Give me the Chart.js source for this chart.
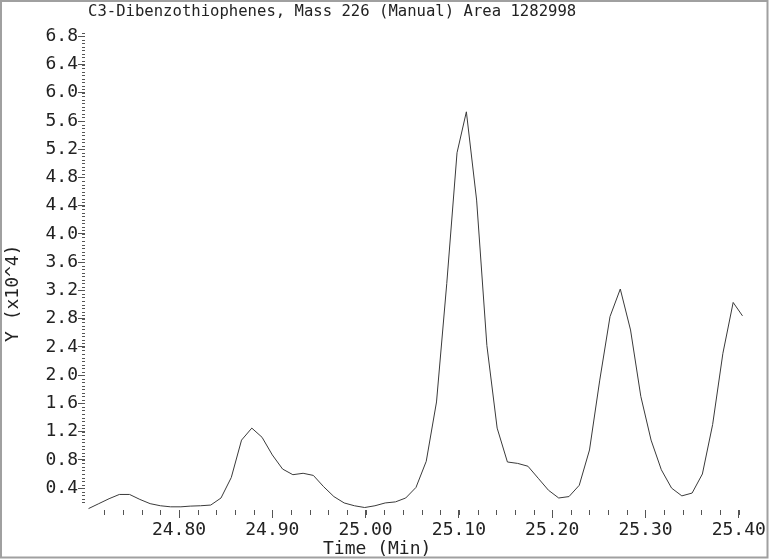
<!DOCTYPE html>
<html>
<head>
<meta charset="utf-8">
<script src="https://cdn.jsdelivr.net/npm/chart.js@4.4.0/dist/chart.umd.min.js"></script>
<style>
    html, body { margin: 0; padding: 0; background: #fff; }
    #wrap { position: relative; width: 780px; height: 559px; }
</style>
</head>
<body>
<div id="wrap"><canvas id="chromChart" width="780" height="559"></canvas></div>
<script>
const chartTitle = "C3-Dibenzothiophenes, Mass 226 (Manual) Area 1282998";
const xTitle = "Time (Min)";
const yTitle = "Y (x10^4)";

// retention time (min) and response (x10^4)
const times = [
    24.703, 24.714, 24.725, 24.736, 24.747, 24.758, 24.769, 24.780, 24.791, 24.802,
    24.812, 24.823, 24.834, 24.845, 24.856, 24.867, 24.878, 24.889, 24.900, 24.911,
    24.922, 24.933, 24.944, 24.955, 24.966, 24.977, 24.988, 24.999, 25.010, 25.021,
    25.032, 25.043, 25.054, 25.065, 25.076, 25.087, 25.098, 25.108, 25.119, 25.130,
    25.141, 25.152, 25.163, 25.174, 25.185, 25.196, 25.207, 25.218, 25.229, 25.240,
    25.251, 25.262, 25.273, 25.284, 25.295, 25.306, 25.317, 25.328, 25.339, 25.350,
    25.361, 25.372, 25.383, 25.394, 25.404
];
const intensity = [
    0.11, 0.18, 0.25, 0.31, 0.31, 0.24, 0.18, 0.15, 0.135, 0.135,
    0.145, 0.15, 0.16, 0.26, 0.55, 1.08, 1.25, 1.12, 0.87, 0.67,
    0.59, 0.61, 0.58, 0.42, 0.28, 0.19, 0.15, 0.125, 0.15, 0.19,
    0.205, 0.26, 0.41, 0.78, 1.62, 3.3, 5.15, 5.73, 4.48, 2.42,
    1.25, 0.77, 0.75, 0.71, 0.54, 0.37, 0.26, 0.28, 0.44, 0.94,
    1.93, 2.83, 3.22, 2.64, 1.70, 1.08, 0.66, 0.40, 0.29, 0.33,
    0.60, 1.30, 2.31, 3.03, 2.84
];

const xTickValues = [24.80, 24.90, 25.00, 25.10, 25.20, 25.30, 25.40];
const yTickValues = [0.4, 0.8, 1.2, 1.6, 2.0, 2.4, 2.8, 3.2, 3.6, 4.0, 4.4, 4.8, 5.2, 5.6, 6.0, 6.4, 6.8];

const monoFont = "'DejaVu Sans Mono', 'Liberation Mono', monospace";

const decorPlugin = {
    id: "decor",
    afterDraw(chart) {
        const ctx = chart.ctx;
        const xs = chart.scales.x;
        const ys = chart.scales.y;
        const area = chart.chartArea;
        ctx.save();

        // minor tick marks
        ctx.strokeStyle = "#555";
        ctx.lineWidth = 1;
        ctx.beginPath();
        for (let v = 24.72; v <= 25.405; v += 0.02) {
            const px = Math.round(xs.getPixelForValue(v)) + 0.5;
            ctx.moveTo(px, area.bottom);
            ctx.lineTo(px, area.bottom + 5);
        }
        for (let v = 0.2; v <= 6.86; v += 0.05) {
            const py = Math.round(ys.getPixelForValue(v)) + 0.5;
            ctx.moveTo(area.left - 3, py);
            ctx.lineTo(area.left, py);
        }
        ctx.stroke();

        // titles
        ctx.fillStyle = "#222";
        ctx.textBaseline = "alphabetic";
        ctx.textAlign = "left";
        ctx.font = "15.6px " + monoFont;
        ctx.fillText(chartTitle, 88, 15.5);

        ctx.font = "18px " + monoFont;
        ctx.fillText(xTitle, 323, 554);

        ctx.translate(18, 342);
        ctx.rotate(-Math.PI / 2);
        ctx.fillText(yTitle, 0, 0);
        ctx.restore();

        // frame
        ctx.save();
        ctx.strokeStyle = "#a0a0a0";
        ctx.lineWidth = 2;
        ctx.beginPath();
        ctx.moveTo(1, 1);
        ctx.lineTo(1, 557.5);
        ctx.lineTo(767.5, 557.5);
        ctx.lineTo(767.5, 1);
        ctx.closePath();
        ctx.stroke();
        ctx.restore();
    }
};

document.addEventListener("DOMContentLoaded", function () {
    const canvas = document.getElementById("chromChart");

    new Chart(canvas, {
        type: "line",
        data: {
            datasets: [{
                data: times.map((t, i) => ({ x: t, y: intensity[i] })),
                borderColor: "#3a3a3a",
                borderWidth: 1,
                pointRadius: 0,
                tension: 0,
                fill: false
            }]
        },
        options: {
            responsive: false,
            animation: false,
            devicePixelRatio: 1,
            layout: { padding: { top: 30, right: 14, bottom: 0, left: 0 } },
            plugins: {
                legend: { display: false },
                tooltip: { enabled: false },
                title: { display: false }
            },
            scales: {
                x: {
                    type: "linear",
                    min: 24.6992,
                    max: 25.4292,
                    afterBuildTicks: (scale) => {
                        scale.ticks = xTickValues.map(v => ({ value: v }));
                    },
                    afterFit: (scale) => { scale.height = 49; },
                    ticks: {
                        autoSkip: false,
                        maxRotation: 0,
                        padding: 2,
                        color: "#222",
                        font: { family: monoFont, size: 18 },
                        callback: (v) => Number(v).toFixed(2)
                    },
                    grid: {
                        drawOnChartArea: false,
                        drawTicks: true,
                        tickLength: 8,
                        color: "#555"
                    },
                    border: { display: false }
                },
                y: {
                    type: "linear",
                    min: 0.09,
                    max: 6.889,
                    afterBuildTicks: (scale) => {
                        scale.ticks = yTickValues.map(v => ({ value: v }));
                    },
                    afterFit: (scale) => { scale.width = 85; },
                    ticks: {
                        autoSkip: false,
                        padding: 0,
                        color: "#222",
                        font: { family: monoFont, size: 18 },
                        callback: (v) => Number(v).toFixed(1)
                    },
                    grid: {
                        drawOnChartArea: false,
                        drawTicks: true,
                        tickLength: 7,
                        color: "#555"
                    },
                    border: { display: false }
                }
            }
        },
        plugins: [decorPlugin]
    });
});
</script>
</body>
</html>
